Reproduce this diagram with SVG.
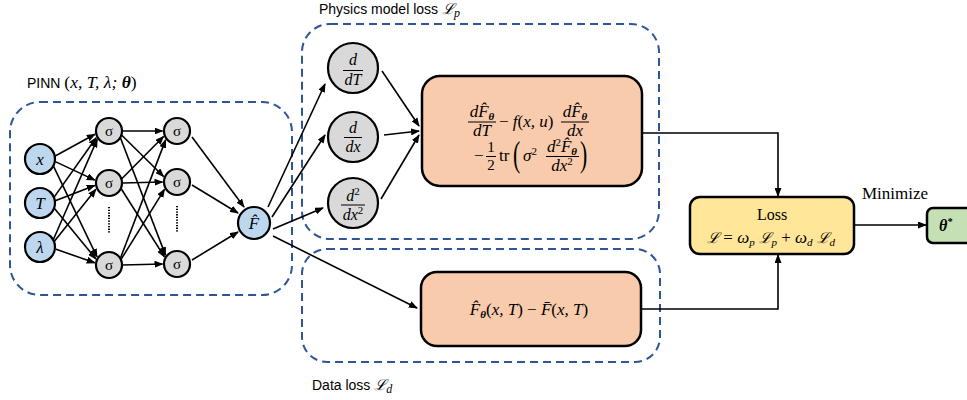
<svg xmlns="http://www.w3.org/2000/svg" width="967" height="400" viewBox="0 0 967 400">
<defs>
<marker id="ah" markerUnits="userSpaceOnUse" markerWidth="9" markerHeight="7" refX="8" refY="3.5" orient="auto">
<path d="M0,0 L9,3.5 L0,7 z" fill="#000"/>
</marker>
<style>
.dash{fill:none;stroke:#2F5597;stroke-width:2;stroke-dasharray:8 5}
.nd{stroke:#000;stroke-width:2.2}
.in{fill:#BDD7EE}
.hid{fill:#D9D9D9}
.box{stroke:#000;stroke-width:2.5}
.edge{stroke:#000;stroke-width:1.6;fill:none;marker-end:url(#ah)}
.bar{stroke:#000;stroke-width:1}
.math{font-family:"Liberation Serif","DejaVu Serif",serif;font-style:italic;fill:#000}
.up{font-family:"Liberation Serif","DejaVu Serif",serif;font-style:normal;fill:#000}
.sans{font-family:"Liberation Sans","Open Sans",sans-serif;fill:#000}
.sc{font-family:"DejaVu Serif","Liberation Serif",serif;font-style:italic}
.mid{text-anchor:middle}
.dots{stroke:#000;stroke-width:2;stroke-dasharray:1.3 1.4}
</style>
</defs>
<rect width="967" height="400" fill="#fff"/>

<!-- group frames -->
<g id="pinn-frame">
<rect class="dash" x="10" y="102" width="282" height="193" rx="30"/>
<text class="sans" x="27" y="88" font-size="14">PINN <tspan class="math" font-size="17.5"><tspan class="up">(</tspan>x, T, λ; <tspan font-weight="bold">θ</tspan><tspan class="up">)</tspan></tspan></text>
</g>
<g id="physics-frame">
<rect class="dash" x="302" y="24" width="357" height="215" rx="28"/>
<text class="sans" x="319" y="14" font-size="14">Physics model loss <tspan class="sc" font-size="15">ℒ</tspan><tspan class="math" font-size="12" dy="3">p</tspan></text>
</g>
<g id="data-frame">
<rect class="dash" x="302" y="249" width="358" height="113" rx="25"/>
<text class="sans" x="312" y="390" font-size="14">Data loss <tspan class="sc" font-size="15">ℒ</tspan><tspan class="math" font-size="12" dy="3">d</tspan></text>
</g>

<!-- connectors -->
<g id="connectors">
<path class="edge" d="M55.2,156 L94.9,134.3"/>
<path class="edge" d="M55.3,161.6 L94.8,180.1"/>
<path class="edge" d="M53.6,166.4 L97,256.9"/>
<path class="edge" d="M54.3,196.9 L96.2,137.7"/>
<path class="edge" d="M55.3,200.8 L94.7,185.4"/>
<path class="edge" d="M54.5,208.5 L95.9,258.9"/>
<path class="edge" d="M53.5,239.3 L97.2,139.4"/>
<path class="edge" d="M54.4,241.3 L95.9,189.3"/>
<path class="edge" d="M55.4,249 L94.7,262.8"/>

<path class="edge" d="M122.5,131 L162.5,131"/>
<path class="edge" d="M121.8,135.3 L163.6,176.5"/>
<path class="edge" d="M120.5,138 L165.5,255.1"/>
<path class="edge" d="M121.8,178.7 L163.6,136.5"/>
<path class="edge" d="M122.5,183 L162.5,182"/>
<path class="edge" d="M121.2,188.7 L164.4,256.8"/>
<path class="edge" d="M120.5,258 L165.6,139.9"/>
<path class="edge" d="M121.2,259.2 L164.5,189.3"/>
<path class="edge" d="M122.5,265 L162.5,264"/>

<path class="edge" d="M192,137 L244,207"/>
<path class="edge" d="M192,185 L238,213"/>
<path class="edge" d="M192,260 L238,232"/>

<path class="edge" d="M268,207 L325,84"/>
<path class="edge" d="M272,217 L325,135"/>
<path class="edge" d="M273,229 L323,208"/>
<path class="edge" d="M273,236 L417,308"/>

<path class="edge" d="M382,71 L419,126"/>
<path class="edge" d="M384,135 L419,131"/>
<path class="edge" d="M381,199 L419,135"/>

<path class="edge" d="M642,133 L778,133 L778,196"/>
<path class="edge" d="M641,309 L778,309 L778,255"/>
<path class="edge" d="M854,225 L926,225"/>
</g>

<!-- input nodes -->
<g id="in-x"><circle class="nd in" cx="40" cy="159" r="15"/><text class="math mid" x="40" y="165" font-size="17">x</text></g>
<g id="in-T"><circle class="nd in" cx="40" cy="203" r="15"/><text class="math mid" x="40" y="209" font-size="17">T</text></g>
<g id="in-lambda"><circle class="nd in" cx="40" cy="247" r="15"/><text class="math mid" x="40" y="253" font-size="17">λ</text></g>

<!-- hidden layer 1 -->
<g id="h1a"><circle class="nd hid" cx="109" cy="131" r="13"/><text class="up mid" x="109" y="136" font-size="15">σ</text></g>
<g id="h1b"><circle class="nd hid" cx="109" cy="183" r="13"/><text class="up mid" x="109" y="188" font-size="15">σ</text></g>
<g id="h1c"><circle class="nd hid" cx="109" cy="265" r="13"/><text class="up mid" x="109" y="270" font-size="15">σ</text></g>
<g id="h1-dots"><line class="dots" x1="109" y1="207" x2="109" y2="234"/></g>

<!-- hidden layer 2 -->
<g id="h2a"><circle class="nd hid" cx="177" cy="131" r="13"/><text class="up mid" x="177" y="136" font-size="15">σ</text></g>
<g id="h2b"><circle class="nd hid" cx="177" cy="182" r="13"/><text class="up mid" x="177" y="187" font-size="15">σ</text></g>
<g id="h2c"><circle class="nd hid" cx="177" cy="264" r="13"/><text class="up mid" x="177" y="269" font-size="15">σ</text></g>
<g id="h2-dots"><line class="dots" x1="177" y1="206" x2="177" y2="233"/></g>

<!-- output -->
<g id="out-F"><circle class="nd in" cx="254" cy="223" r="16"/><text class="math mid" x="254" y="229" font-size="17">F̂</text></g>

<!-- derivative nodes -->
<g id="d-dT">
<circle class="nd hid" cx="353" cy="68" r="25"/>
<text class="math mid" x="353" y="65" font-size="16">d</text>
<line class="bar" x1="343" y1="70.5" x2="363" y2="70.5"/>
<text class="math mid" x="353" y="85" font-size="16">dT</text>
</g>
<g id="d-dx">
<circle class="nd hid" cx="353" cy="137" r="25"/>
<text class="math mid" x="353" y="133" font-size="16">d</text>
<line class="bar" x1="344" y1="137.5" x2="362" y2="137.5"/>
<text class="math mid" x="353" y="152" font-size="16">dx</text>
</g>
<g id="d-dx2">
<circle class="nd hid" cx="353" cy="203" r="25"/>
<text class="math mid" x="353" y="201" font-size="16">d<tspan class="up" font-size="11" dy="-6">2</tspan></text>
<line class="bar" x1="341" y1="205" x2="365" y2="205"/>
<text class="math mid" x="353" y="220" font-size="16">dx<tspan class="up" font-size="11" dy="-6">2</tspan></text>
</g>

<!-- physics residual box -->
<g id="physics-box">
<rect class="box" x="422" y="76" width="220" height="110" rx="18" fill="#F8CBAD"/>
<text class="math mid" x="482" y="117" font-size="17">dF̂<tspan font-size="11" font-weight="bold" dy="3">θ</tspan></text>
<line class="bar" x1="468" y1="122" x2="496" y2="122"/>
<text class="math mid" x="482" y="136" font-size="17">dT</text>
<text class="math" x="499" y="127" font-size="17"><tspan class="up">− </tspan>f<tspan class="up">(</tspan>x, u<tspan class="up">)</tspan></text>
<text class="math mid" x="575" y="117" font-size="17">dF̂<tspan font-size="11" font-weight="bold" dy="3">θ</tspan></text>
<line class="bar" x1="561" y1="122" x2="589" y2="122"/>
<text class="math mid" x="575" y="136" font-size="17">dx</text>

<text class="up" x="474" y="161" font-size="17">−</text>
<text class="up mid" x="491" y="152" font-size="15">1</text>
<line class="bar" x1="486" y1="156.5" x2="496" y2="156.5"/>
<text class="up mid" x="491" y="170" font-size="15">2</text>
<text class="up" x="499" y="161" font-size="17">tr</text>
<text class="up" transform="translate(513,166) scale(0.75,1.25)" font-size="29">(</text>
<text class="math" x="523" y="161" font-size="17">σ<tspan class="up" font-size="11" dy="-6">2</tspan></text>
<text class="math mid" x="562" y="152" font-size="17">d<tspan class="up" font-size="11" dy="-6">2</tspan><tspan dy="6">F̂</tspan><tspan font-size="11" font-weight="bold" dy="3">θ</tspan></text>
<line class="bar" x1="546" y1="156.5" x2="579" y2="156.5"/>
<text class="math mid" x="562" y="171" font-size="17">dx<tspan class="up" font-size="11" dy="-6">2</tspan></text>
<text class="up" transform="translate(580,166) scale(0.75,1.25)" font-size="29">)</text>
</g>

<!-- data residual box -->
<g id="data-box">
<rect class="box" x="421" y="272" width="220" height="74" rx="16" fill="#F8CBAD"/>
<text class="math mid" x="529" y="315" font-size="17">F̂<tspan font-size="11" font-weight="bold" dy="3">θ</tspan><tspan class="up" dy="-3">(</tspan>x, T<tspan class="up">) − </tspan>F̄<tspan class="up">(</tspan>x, T<tspan class="up">)</tspan></text>
</g>

<!-- loss box -->
<g id="loss-box">
<rect class="box" x="690" y="197" width="164" height="57" rx="10" fill="#FFE699"/>
<text class="up mid" x="772" y="220" font-size="16">Loss</text>
<text class="math mid" x="771" y="243" font-size="17"><tspan class="sc" font-size="15">ℒ</tspan><tspan class="up"> = </tspan>ω<tspan font-size="11" dy="3">p</tspan><tspan class="sc" font-size="15" dy="-3"> ℒ</tspan><tspan font-size="11" dy="3">p</tspan><tspan class="up" dy="-3"> + </tspan>ω<tspan font-size="11" dy="3">d</tspan><tspan class="sc" font-size="15" dy="-3"> ℒ</tspan><tspan font-size="11" dy="3">d</tspan></text>
</g>

<g id="minimize-label">
<text class="up" x="862" y="199" font-size="17">Minimize</text>
</g>

<g id="theta-star">
<rect class="box" x="927" y="208" width="60" height="35" rx="6" fill="#C5E0B4"/>
<text class="math" x="939" y="231" font-size="16" font-weight="bold">θ<tspan font-size="10" dy="-6">*</tspan></text>
</g>
</svg>
